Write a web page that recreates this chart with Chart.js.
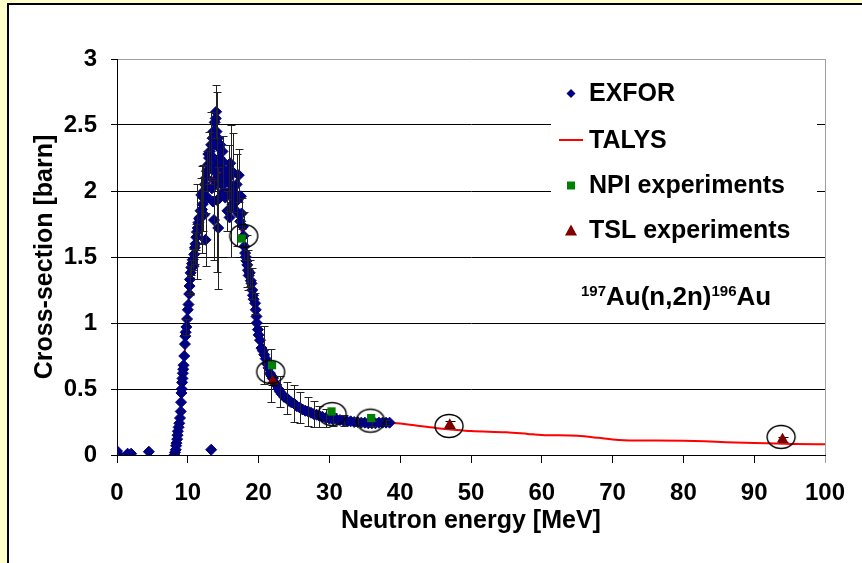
<!DOCTYPE html>
<html><head><meta charset="utf-8">
<script src="https://cdn.jsdelivr.net/npm/chart.js@4.4.1/dist/chart.umd.min.js"></script>
<style>
html,body{margin:0;padding:0;background:#FFFFCC;overflow:hidden;width:862px;height:563px;}
#panel{position:absolute;left:7px;top:3px;width:900px;height:600px;background:#fff;border-left:2px solid #000;border-top:2px solid #000;}
#c{position:absolute;left:0;top:0;}
</style></head><body>
<div id="panel"></div>
<canvas id="c" width="862" height="563"></canvas>
<script>
// ---- data ----
const exforEnergy = [
 0, 0.1, 1.5, 2.0, 4.5, 8.1, 8.2, 8.3, 8.35, 8.4,
 8.5, 8.55, 8.6, 8.7, 8.8, 8.9, 9.0, 9.05, 9.1, 9.15,
 9.2, 9.25, 9.3, 9.35, 9.4, 9.5, 9.6, 9.65, 9.7, 9.8,
 9.9, 10.0, 10.1, 10.2, 10.25, 10.3, 10.4, 10.5, 10.6, 10.7,
 10.8, 10.9, 11.0, 11.1, 11.2, 11.3, 11.4, 11.5, 11.6, 11.7,
 11.8, 12.0, 12.1, 12.2, 12.3, 12.4, 12.5, 12.6, 12.7, 12.8,
 12.9, 13.0, 13.1, 13.2, 13.3, 13.4, 13.5, 13.55, 13.6, 13.65,
 13.7, 13.75, 13.8, 13.85, 13.9, 13.95, 14.0, 14.05, 14.1, 14.15,
 14.2, 14.25, 14.3, 14.35, 14.4, 14.5, 14.55, 14.6, 14.7, 14.8,
 14.9, 15.0, 15.1, 15.2, 15.3, 15.4, 15.5, 15.6, 15.8, 16.0,
 16.1, 16.2, 16.4, 16.5, 16.6, 16.7, 16.9, 17.0, 17.2, 17.3,
 17.4, 17.6, 17.8, 17.9, 18.0, 18.1, 18.2, 18.3, 18.4, 18.5,
 18.6, 18.75, 18.9, 19.0, 19.1, 19.2, 19.3, 19.5, 19.6, 19.7,
 19.75, 19.9, 20.0, 20.2, 20.4, 20.6, 20.8, 21.0, 21.2, 21.4,
 21.6, 21.8, 22.0, 22.2, 22.5, 22.8, 23.0, 23.3, 23.6, 24.0,
 24.3, 24.6, 25.0, 25.4, 25.8, 26.2, 26.6, 27.0, 27.4, 27.8,
 28.2, 28.6, 29.0, 29.5, 30.0, 30.5, 31.0, 31.5, 32.0, 32.5,
 33.0, 33.5, 34.0, 34.5, 35.0, 35.5, 36.0, 36.5, 37.0, 37.5,
 38.0, 38.5, 13.3, 11.9, 12.3, 15.7, 16.3, 17.5, 12.9, 15.9
];
const exforXS = [
 0.03, 0.01, 0.01, 0.01, 0.025, 0.0, 0.02, 0.04, 0.07, 0.09,
 0.12, 0.15, 0.18, 0.21, 0.24, 0.28, 0.33, 0.40, 0.47, 0.50,
 0.55, 0.58, 0.62, 0.65, 0.68, 0.75, 0.84, 0.90, 0.93, 0.97,
 1.03, 1.10, 1.14, 1.22, 1.28, 1.33, 1.38, 1.42, 1.45, 1.48,
 1.43, 1.52, 1.57, 1.60, 1.65, 1.69, 1.72, 1.76, 1.79, 1.80,
 1.85, 1.86, 1.90, 1.95, 2.00, 2.05, 1.63, 2.10, 2.15, 1.95,
 2.20, 2.25, 2.30, 2.18, 2.35, 2.02, 2.40, 1.92, 2.45, 2.25,
 1.78, 2.15, 2.52, 2.35, 2.08, 2.55, 2.60, 2.45, 2.07, 1.93,
 2.20, 2.40, 1.72, 2.10, 2.33, 2.25, 1.95, 2.35, 2.18, 2.05,
 2.30, 2.22, 2.00, 2.12, 1.95, 2.07, 1.98, 1.85, 2.10, 2.21,
 2.00, 2.04, 2.14, 1.95, 1.86, 1.98, 2.05, 1.93, 2.12, 1.82,
 1.77, 1.83, 1.73, 1.66, 1.58, 1.53, 1.50, 1.47, 1.44, 1.40,
 1.36, 1.38, 1.32, 1.30, 1.25, 1.21, 1.18, 1.15, 1.10, 1.05,
 1.00, 0.95, 0.91, 0.87, 0.81, 0.79, 0.76, 0.73, 0.69, 0.66,
 0.62, 0.60, 0.58, 0.55, 0.53, 0.50, 0.48, 0.46, 0.44, 0.43,
 0.41, 0.40, 0.39, 0.37, 0.36, 0.345, 0.335, 0.33, 0.32, 0.31,
 0.305, 0.295, 0.29, 0.28, 0.275, 0.27, 0.27, 0.265, 0.26, 0.255,
 0.255, 0.25, 0.25, 0.245, 0.245, 0.24, 0.24, 0.24, 0.245, 0.245,
 0.245, 0.245, 0.04, 1.97, 1.82, 2.16, 1.90, 1.96, 2.28, 1.80
];
// EXFOR points that show an error bar (energy, value, half-length)
const exforErrEnergy = [9.8, 10.25, 10.3, 10.5, 10.7, 11.0, 11.2, 11.3, 11.8, 12.0, 12.2, 12.5, 12.7, 13.0, 13.3, 13.7, 14.0, 14.1, 14.3, 15.0, 15.6, 15.8, 16.1, 16.4, 17.0, 17.2, 17.6, 17.9, 18.3, 18.5, 18.75, 19.0, 19.5, 20.8, 21.8, 23.0, 24.0, 25.0, 25.8, 27.0, 27.8, 28.6, 29.5, 30.5, 32.0, 34.0, 36.0, 38.0];
const exforErrXS     = [0.97, 1.28, 1.33, 1.42, 1.48, 1.57, 1.65, 1.69, 1.85, 1.86, 1.95, 1.63, 2.15, 2.25, 2.35, 1.78, 2.60, 2.07, 1.72, 2.22, 1.85, 2.10, 2.00, 2.14, 1.93, 2.12, 1.83, 1.66, 1.47, 1.40, 1.38, 1.30, 1.15, 0.76, 0.60, 0.48, 0.43, 0.39, 0.36, 0.33, 0.31, 0.295, 0.28, 0.27, 0.26, 0.25, 0.24, 0.245];
const exforErrSize   = [0.06, 0.07, 0.10, 0.06, 0.08, 0.12, 0.10, 0.36, 0.25, 0.33, 0.25, 0.20, 0.15, 0.20, 0.25, 0.30, 0.20, 0.68, 0.46, 0.20, 0.15, 0.25, 0.50, 0.30, 0.35, 0.20, 0.12, 0.18, 0.20, 0.15, 0.10, 0.12, 0.08, 0.22, 0.20, 0.12, 0.12, 0.14, 0.12, 0.11, 0.10, 0.08, 0.07, 0.05, 0.04, 0.03, 0.02, 0.02];

const talysEnergy = [8, 8.5, 9, 9.5, 10, 10.5, 11, 11.5, 12, 12.5, 13, 13.5, 14, 14.5, 15, 15.5, 16, 16.5, 17, 17.5, 18, 18.5, 19, 19.5, 20, 20.5, 21, 21.5, 22, 22.5, 23, 24, 25, 26, 27, 28, 30, 32, 35, 38, 40, 42, 45, 48, 50, 55, 58, 60, 65, 68, 70, 73, 76, 80, 83, 86, 90, 93, 96, 100];
const talysXS = [0, 0.06, 0.33, 0.72, 1.10, 1.38, 1.60, 1.77, 1.88, 1.97, 2.05, 2.10, 2.13, 2.14, 2.13, 2.10, 2.05, 1.97, 1.87, 1.72, 1.57, 1.42, 1.27, 1.13, 0.99, 0.86, 0.75, 0.66, 0.59, 0.53, 0.48, 0.42, 0.38, 0.345, 0.32, 0.30, 0.28, 0.265, 0.255, 0.245, 0.238, 0.225, 0.205, 0.19, 0.182, 0.172, 0.16, 0.152, 0.145, 0.13, 0.118, 0.11, 0.11, 0.108, 0.104, 0.097, 0.09, 0.087, 0.083, 0.082];

const npiEnergy = [17.6, 21.9, 30.3, 35.9];
const npiXS = [1.64, 0.68, 0.33, 0.28];

const tslEnergy = [22.0, 47.0, 94.0];
const tslXS = [0.56, 0.23, 0.12];
const tslErr = [0.03, 0.025, 0.02];

const circleEnergy = [17.9, 21.7, 30.4, 35.8, 46.9, 93.8];
const circleXS = [1.66, 0.63, 0.31, 0.26, 0.22, 0.137];

const xTickStep = 10, yTickStep = 0.5;
const seriesLabels = ['EXFOR', 'TALYS', 'NPI experiments', 'TSL experiments'];
const reactionText = ['197', 'Au(n,2n)', '196', 'Au'];

// ---- helpers ----
const FONT = '"Liberation Sans", Arial, sans-serif';
const pts = (xs, ys) => xs.map((x, i) => ({x: x, y: ys[i]}));

function ellipseStyle() {
  const c = document.createElement('canvas');
  c.width = 32; c.height = 28;
  const g = c.getContext('2d');
  g.strokeStyle = '#000'; g.lineWidth = 1.4;
  g.beginPath(); g.ellipse(16, 14, 14, 11.5, 0, 0, Math.PI * 2); g.stroke();
  return c;
}

const errorBarPlugin = {
  id: 'errorBars',
  drawBars(chart, ds) {
    const eb = ds.errorBars, ctx = chart.ctx;
    const xs = chart.scales.x, ys = chart.scales.y;
    ctx.save();
    ctx.strokeStyle = eb.color; ctx.lineWidth = 1;
    for (let i = 0; i < eb.x.length; i++) {
      const px = Math.round(xs.getPixelForValue(eb.x[i])) + 0.5;
      const pt = Math.round(ys.getPixelForValue(eb.y[i] + eb.e[i])) + 0.5;
      const pb = Math.round(ys.getPixelForValue(eb.y[i] - eb.e[i])) + 0.5;
      ctx.beginPath();
      ctx.moveTo(px, pt); ctx.lineTo(px, pb);
      ctx.moveTo(px - eb.cap, pt); ctx.lineTo(px + eb.cap, pt);
      ctx.moveTo(px - eb.cap, pb); ctx.lineTo(px + eb.cap, pb);
      ctx.stroke();
    }
    ctx.restore();
  },
  beforeDatasetDraw(chart, args) {
    const ds = chart.data.datasets[args.index];
    if (ds.errorBars && ds.errorBars.under) this.drawBars(chart, ds);
  },
  afterDatasetDraw(chart, args) {
    const ds = chart.data.datasets[args.index];
    if (ds.errorBars && !ds.errorBars.under) this.drawBars(chart, ds);
  }
};

const legendPlugin = {
  id: 'boxLegend',
  afterDatasetsDraw(chart) {
    const ctx = chart.ctx;
    ctx.save();
    ctx.fillStyle = '#fff';
    ctx.fillRect(551, 68, 266, 183);
    const rows = [93.5, 140, 185.5, 230.5];
    const mx = 571, tx = 589;
    const entries = chart.data.datasets.filter(d => d.legendRow !== undefined);
    entries.forEach(d => {
      const y = rows[d.legendRow];
      ctx.fillStyle = d.backgroundColor; ctx.strokeStyle = d.borderColor;
      if (d.legendMarker === 'line') {
        ctx.lineWidth = 2;
        ctx.beginPath(); ctx.moveTo(559, y); ctx.lineTo(583, y); ctx.stroke();
      } else if (d.legendMarker === 'diamond') {
        ctx.beginPath(); ctx.moveTo(mx - 4.5, y); ctx.lineTo(mx, y - 4.5); ctx.lineTo(mx + 4.5, y); ctx.lineTo(mx, y + 4.5); ctx.closePath(); ctx.fill();
      } else if (d.legendMarker === 'square') {
        ctx.fillRect(mx - 4, y - 4, 8, 8);
      } else if (d.legendMarker === 'triangle') {
        ctx.beginPath(); ctx.moveTo(mx, y - 6); ctx.lineTo(mx + 6, y + 5); ctx.lineTo(mx - 6, y + 5); ctx.closePath(); ctx.fill();
      }
      ctx.fillStyle = '#000';
      ctx.font = 'bold 25px ' + FONT;
      ctx.textBaseline = 'middle'; ctx.textAlign = 'left';
      ctx.fillText(d.label, tx, y + 1);
    });
    // reaction annotation
    const big = 'bold 26px ' + FONT, small = 'bold 15px ' + FONT;
    let x = 581; const base = 305;
    ctx.textBaseline = 'alphabetic';
    reactionText.forEach((t, i) => {
      const sup = (i % 2 === 0);
      ctx.font = sup ? small : big;
      ctx.fillText(t, x, sup ? base - 9 : base);
      x += ctx.measureText(t).width;
    });
    ctx.restore();
  }
};

const tickFont = {family: FONT, size: 24, weight: 'bold'};
const titleFont = {family: FONT, size: 25, weight: 'bold'};

new Chart(document.getElementById('c'), {
  type: 'scatter',
  data: {
    datasets: [
      { label: 'circles', data: pts(circleEnergy, circleXS), pointStyle: ellipseStyle(), pointRadius: 14, order: 0 },
      { label: seriesLabels[3], data: pts(tslEnergy, tslXS), pointStyle: 'triangle', pointRadius: 6.5,
        backgroundColor: '#800000', borderColor: '#800000', borderWidth: 0, order: 1,
        legendRow: 3, legendMarker: 'triangle',
        errorBars: {x: tslEnergy, y: tslXS, e: tslErr, cap: 5, color: '#000', under: true} },
      { label: seriesLabels[2], data: pts(npiEnergy, npiXS), pointStyle: 'rect', pointRadius: 5.8,
        backgroundColor: '#008000', borderColor: '#008000', borderWidth: 0, order: 2,
        legendRow: 2, legendMarker: 'square' },
      { label: seriesLabels[0], data: pts(exforEnergy, exforXS), pointStyle: 'rectRot', pointRadius: 5.5,
        backgroundColor: '#000080', borderColor: '#000080', borderWidth: 1, order: 3,
        legendRow: 0, legendMarker: 'diamond',
        errorBars: {x: exforErrEnergy, y: exforErrXS, e: exforErrSize, cap: 4, color: '#222', under: false} },
      { label: seriesLabels[1], data: pts(talysEnergy, talysXS), showLine: true, pointRadius: 0,
        borderColor: '#FF0000', backgroundColor: '#FF0000', borderWidth: 2, cubicInterpolationMode: 'monotone', order: 4,
        legendRow: 1, legendMarker: 'line' }
    ]
  },
  options: {
    responsive: false, animation: false, events: [], devicePixelRatio: 1,
    layout: {padding: {left: 0, right: 37, top: 59, bottom: 0}},
    plugins: {legend: {display: false}, tooltip: {enabled: false}},
    scales: {
      x: {
        type: 'linear', min: 0, max: 100,
        ticks: {stepSize: xTickStep, font: tickFont, color: '#000', padding: 15.5, autoSkip: false, maxRotation: 0},
        grid: {
          color: c => (c.tick && c.tick.value === 100) ? '#a0a0a0' : 'rgba(0,0,0,0)',
          tickColor: c => (c.tick && c.tick.value === 100) ? '#a0a0a0' : '#000',
          tickLength: 8, lineWidth: 1
        },
        border: {color: '#000', width: 1},
        title: {display: true, text: 'Neutron energy [MeV]', font: titleFont, color: '#000', padding: {top: 0, bottom: 27}},
        afterFit: s => { s.height = 108; }
      },
      y: {
        type: 'linear', min: 0, max: 3,
        ticks: {stepSize: yTickStep, font: tickFont, color: '#000', padding: 14,
                callback: v => String(Math.round(v * 10) / 10)},
        grid: {
          color: c => (c.tick && c.tick.value === 3) ? '#a0a0a0' : '#000',
          tickColor: '#000', tickLength: 6, lineWidth: 1
        },
        border: {color: '#000', width: 1},
        title: {display: true, text: 'Cross-section [barn]', font: titleFont, color: '#000', padding: {top: 30, bottom: 0}},
        afterFit: s => { s.width = 117; }
      }
    }
  },
  plugins: [errorBarPlugin, legendPlugin]
});
</script></body></html>
